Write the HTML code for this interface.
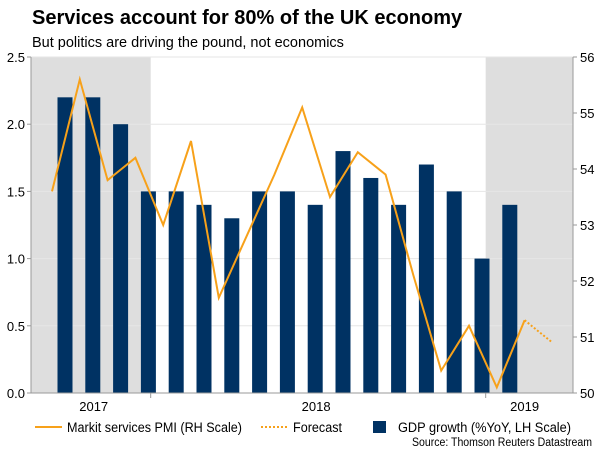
<!DOCTYPE html>
<html><head><meta charset="utf-8"><style>
body{margin:0;background:#fff;font-family:"Liberation Sans",Arial,sans-serif;}
svg text{font-family:"Liberation Sans",Arial,sans-serif;}
</style></head><body>
<svg id="chart" width="600" height="450" xmlns="http://www.w3.org/2000/svg">
<text x="32" y="24" font-size="20" font-weight="bold" fill="#000">Services account for 80% of the UK economy</text>
<text x="32" y="47" font-size="14.5" fill="#000">But politics are driving the pound, not economics</text>
<g id="plot"></g>
<g>
<line x1="35" y1="427" x2="62" y2="427" stroke="#f7a11a" stroke-width="2"/>
<text x="67" y="432" font-size="13.5" textLength="175" lengthAdjust="spacingAndGlyphs" fill="#000">Markit services PMI (RH Scale)</text>
<line x1="261" y1="427" x2="288" y2="427" stroke="#f7a11a" stroke-width="2" stroke-dasharray="2,2"/>
<text x="293" y="432" font-size="13.5" textLength="49" lengthAdjust="spacingAndGlyphs" fill="#000">Forecast</text>
<rect x="373" y="421" width="13" height="12" fill="#003263"/>
<text x="398" y="432" font-size="13.5" textLength="173" lengthAdjust="spacingAndGlyphs" fill="#000">GDP growth (%YoY, LH Scale)</text>
</g>
<text x="592" y="446" font-size="11.5" text-anchor="end" textLength="180" lengthAdjust="spacingAndGlyphs" fill="#000">Source: Thomson Reuters Datastream</text>
</svg>
<script>
const gdpValues=[2.2,2.2,2.0,1.5,1.5,1.4,1.3,1.5,1.5,1.4,1.8,1.6,1.4,1.7,1.5,1.0,1.4];
const pmiValues=[53.6,55.6,53.8,54.2,53.0,54.5,51.7,52.8,53.9,55.1,53.5,54.3,53.9,52.1,50.4,51.2,50.1,51.3];
const forecastValues=[51.3,50.9];
const leftTicks=[0,0.5,1.0,1.5,2.0,2.5];
const rightTicks=[50,51,52,53,54,55,56];
const yearLabels=["2017","2018","2019"];
const yearLabelIdx=[1.5,9.5,17];
const shadeRanges=[[-1,3.55],[15.6,19.3]];
const yearTickIdx=[3.55,15.6];

const L=31,R=573,T=57,B=393;
const xi=i=>52+i*27.8;
const barX=i=>xi(i)+13;
const yL=v=>B-(v/2.5)*(B-T);
const yR=v=>B-((v-50)/6)*(B-T);
const g=document.getElementById('plot');
const NS='http://www.w3.org/2000/svg';
function mk(t,a){const e=document.createElementNS(NS,t);for(const k in a)e.setAttribute(k,a[k]);g.appendChild(e);return e;}
shadeRanges.forEach(r=>{const x1=Math.max(L,xi(r[0])),x2=Math.min(R,xi(r[1]));
const e=mk('rect',{x:x1,y:T,width:x2-x1,height:B-T,fill:'#dedede'});

});
leftTicks.forEach(v=>{const y=yL(v);
const l=mk('line',{x1:L,x2:R,y1:y,y2:y,stroke:'#e6e6e6','stroke-width':1});


const t=mk('text',{x:25,y:y+5,'font-size':13,'text-anchor':'end',fill:'#000'});t.textContent=v.toFixed(1);


mk('line',{x1:L-4,x2:L,y1:y,y2:y,stroke:'#999'});});
rightTicks.forEach(v=>{const y=yR(v);
const t=mk('text',{x:580,y:y+5,'font-size':13,fill:'#000'});t.textContent=v;


mk('line',{x1:R,x2:R+4,y1:y,y2:y,stroke:'#999'});});
gdpValues.forEach((v,i)=>{const e=mk('rect',{x:barX(i)-7.5,y:yL(v),width:15,height:B-yL(v),fill:'#003263'});

});
mk('line',{x1:L,x2:L,y1:T,y2:B,stroke:'#999'});
mk('line',{x1:R,x2:R,y1:T,y2:B,stroke:'#999'});
mk('line',{x1:L,x2:R,y1:B,y2:B,stroke:'#999'});
yearTickIdx.forEach(i=>mk('line',{x1:xi(i),x2:xi(i),y1:B,y2:B+5,stroke:'#999'}));
yearLabels.forEach((s,k)=>{const t=mk('text',{x:xi(yearLabelIdx[k]),y:411,'font-size':13,'text-anchor':'middle',fill:'#000'});t.textContent=s;

});
const pl=mk('polyline',{points:pmiValues.map((v,i)=>xi(i)+','+yR(v)).join(' '),fill:'none',stroke:'#f7a11a','stroke-width':2,'stroke-linejoin':'miter'});


const n=pmiValues.length-1;
const fl=mk('polyline',{points:forecastValues.map((v,i)=>xi(n+i)+','+yR(v)).join(' '),fill:'none',stroke:'#f7a11a','stroke-width':2,'stroke-dasharray':'2,2'});


</script>
</body></html>
